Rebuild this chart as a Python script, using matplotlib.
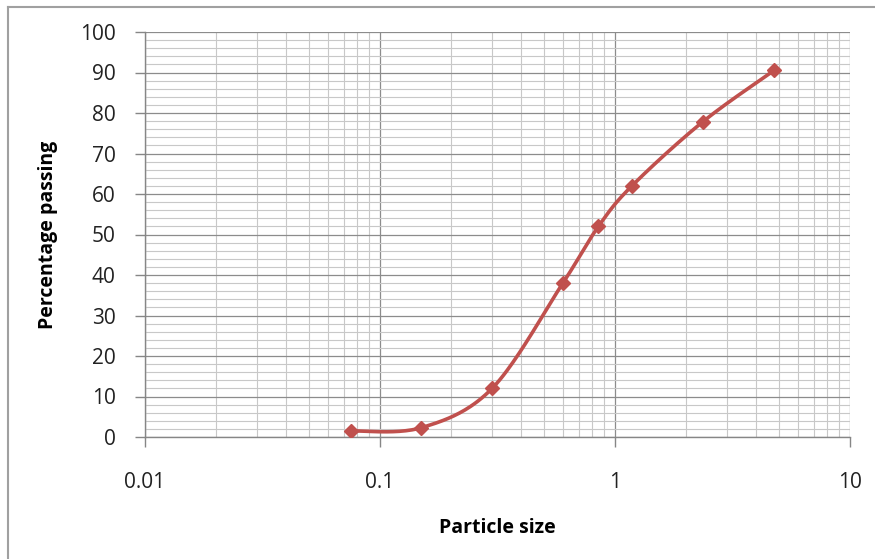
import numpy as np
import matplotlib
matplotlib.use("Agg")
import matplotlib.pyplot as plt
from matplotlib.ticker import LogLocator, MultipleLocator, FixedLocator, FixedFormatter, NullFormatter
from matplotlib.lines import Line2D

particle_size = [0.075, 0.15, 0.3, 0.6, 0.85, 1.18, 2.36, 4.75]
percent_passing = [1.5, 2.3, 12.0, 38.0, 52.0, 62.0, 77.8, 90.5]
x_tick_values = [0.01, 0.1, 1, 10]
x_tick_labels = ["0.01", "0.1", "1", "10"]

plt.rcParams['font.family'] = ['Open Sans', 'DejaVu Sans']

def catmull_rom(px, py, n=40):
    px = np.asarray(px, float); py = np.asarray(py, float)
    P = np.column_stack([px, py])
    P = np.vstack([P[0], P, P[-1]])
    out = []
    for i in range(1, len(P) - 2):
        p0, p1, p2, p3 = P[i - 1], P[i], P[i + 1], P[i + 2]
        b1 = p1 + (p2 - p0) / 6.0
        b2 = p2 - (p3 - p1) / 6.0
        t = np.linspace(0, 1, n)[:, None]
        seg = ((1 - t) ** 3) * p1 + 3 * ((1 - t) ** 2) * t * b1 + 3 * (1 - t) * t ** 2 * b2 + t ** 3 * p2
        out.append(seg if i == 1 else seg[1:])
    return np.vstack(out)

fig = plt.figure(figsize=(8.75, 5.59), dpi=100)
ax = fig.add_axes([145 / 875, 1 - 437 / 559, 705 / 875, 405 / 559])

ax.set_xscale('log')
ax.set_xlim(0.01, 10)
ax.set_ylim(0, 100)

# smoothed curve in (log10 x, y) space
lx = np.log10(particle_size)
curve = catmull_rom(lx, percent_passing)
ax.plot(10 ** curve[:, 0], curve[:, 1], color='#C0504D', lw=2.6, zorder=3, solid_capstyle='round')
ax.plot(particle_size, percent_passing, linestyle='none', marker='D', markersize=7.5,
        color='#C0504D', markeredgecolor='#C0504D', zorder=4)

ax.xaxis.set_major_locator(FixedLocator(x_tick_values))
ax.xaxis.set_major_formatter(FixedFormatter(x_tick_labels))
ax.xaxis.set_minor_locator(LogLocator(base=10, subs=np.arange(2, 10)))
ax.xaxis.set_minor_formatter(NullFormatter())
ax.yaxis.set_major_locator(MultipleLocator(10))
ax.yaxis.set_minor_locator(MultipleLocator(2))

ax.grid(which='major', color='#8c8c8c', lw=0.9)
ax.grid(which='minor', color='#c8c8c8', lw=0.8)
ax.set_axisbelow(True)

for s in ['top', 'right']:
    ax.spines[s].set_visible(False)
for s in ['left', 'bottom']:
    ax.spines[s].set_color('#868686')
    ax.spines[s].set_linewidth(1.0)

ax.tick_params(which='major', direction='out', length=7, width=1, color='#868686',
               labelsize=15, labelcolor='#222222')
ax.tick_params(which='minor', length=0)
ax.tick_params(axis='y', pad=14)
ax.tick_params(axis='x', pad=18)

ax.set_xlabel('Particle size', fontsize=14, fontweight='bold', labelpad=18)
ax.set_ylabel('Percentage passing', fontsize=14, fontweight='bold', labelpad=16)

# outer chart-area border (left and top visible)
fig.add_artist(Line2D([8 / 875, 8 / 875], [0, 1 - 7 / 559], transform=fig.transFigure, color='#a0a0a0', lw=1.5))
fig.add_artist(Line2D([8 / 875, 1.0], [1 - 7 / 559, 1 - 7 / 559], transform=fig.transFigure, color='#a0a0a0', lw=1.5))

fig.savefig('out.png', dpi=100)
